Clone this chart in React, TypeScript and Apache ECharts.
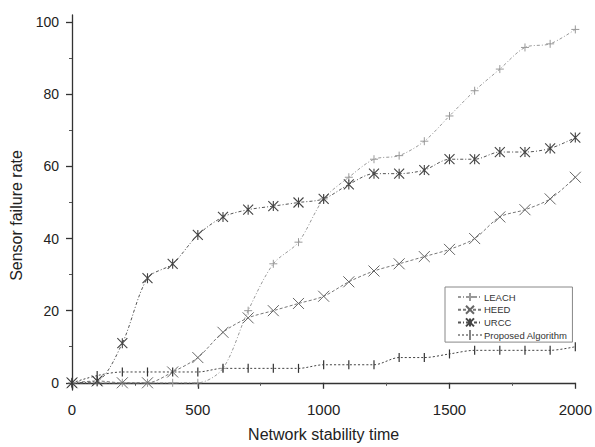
import React, { useEffect, useRef } from "react";
import * as echarts from "echarts";

const xValues = [0, 100, 200, 300, 400, 500, 600, 700, 800, 900, 1000, 1100, 1200, 1300, 1400, 1500, 1600, 1700, 1800, 1900, 2000];
const leach = [0, 0, 0, 0, 0, 0, 4, 20, 33, 39, 51, 57, 62, 63, 67, 74, 81, 87, 93, 94, 98];
const heed = [0, 0.5, 0, 0, 3, 7, 14, 18, 20, 22, 24, 28, 31, 33, 35, 37, 40, 46, 48, 51, 57];
const urcc = [0, 0.5, 11, 29, 33, 41, 46, 48, 49, 50, 51, 55, 58, 58, 59, 62, 62, 64, 64, 65, 68];
const proposed = [0, 2, 3, 3, 3, 3, 4, 4, 4, 4, 5, 5, 5, 7, 7, 8, 9, 9, 9, 9, 10];

const seriesNames = ["LEACH", "HEED", "URCC", "Proposed Algorithm"];
const yMajorTicks = [0, 20, 40, 60, 80, 100];
const yMinorTicks = [10, 30, 50, 70, 90];

const FONT = "'Liberation Sans', Arial, sans-serif";
const PROPOSED_ICON =
  "path://M0,4.5h2v1h-2zM4,4.5h2v1h-2zM8,4.5h2v1h-2zM11.4,0h1.2v10h-1.2zM14,4.5h2v1h-2zM18,4.5h2v1h-2zM22,4.5h2v1h-2z";

export default function App() {
  const ref = useRef<HTMLDivElement>(null);
  useEffect(() => {
    if (!ref.current) return;
    const chart = echarts.init(ref.current, undefined, { renderer: "svg" });
    const pts = (arr: number[]) => xValues.map((x, i) => [x, arr[i]]);
    chart.setOption({
      animation: false,
      backgroundColor: "#fff",
      textStyle: { fontFamily: FONT },
      grid: { left: 72, right: 14, top: 15, bottom: 55 },
      legend: {
        orient: "vertical",
        left: 445,
        top: 287,
        data: [
          { name: seriesNames[0] },
          { name: seriesNames[1] },
          { name: seriesNames[2] },
          { name: seriesNames[3], icon: PROPOSED_ICON },
        ],
        itemWidth: 24,
        itemHeight: 10,
        itemGap: 2.7,
        padding: [5, 5, 2, 12],
        borderColor: "#888",
        borderWidth: 1,
        textStyle: { fontSize: 9.5, color: "#333", fontFamily: FONT, padding: [0, 0, 0, -3] },
      },
      xAxis: {
        type: "value",
        min: 0,
        max: 2000,
        interval: 500,
        name: "Network stability time",
        nameLocation: "middle",
        nameGap: 36,
        nameTextStyle: { fontSize: 16, color: "#222", fontFamily: FONT },
        axisLine: { show: true, lineStyle: { color: "#333", width: 1.3 } },
        axisTick: { show: true, length: 6, lineStyle: { color: "#333", width: 1.3 } },
        minorTick: { show: true, splitNumber: 2, length: 3, lineStyle: { color: "#555" } },
        axisLabel: { fontSize: 15, color: "#222", margin: 12, fontFamily: FONT, formatter: (v: number) => String(v) },
        splitLine: { show: false },
      },
      yAxis: [
        {
          type: "value",
          min: -2,
          max: 102,
          name: "Sensor failure rate",
          nameLocation: "middle",
          nameGap: 46,
          nameTextStyle: { fontSize: 16, color: "#222", fontFamily: FONT, padding: [0, 26, 0, 0] },
          axisLine: { show: true, lineStyle: { color: "#333", width: 1.3 } },
          axisTick: { show: true, length: 6, customValues: yMajorTicks, lineStyle: { color: "#333", width: 1.3 } },
          axisLabel: { fontSize: 14, color: "#222", margin: 13, customValues: yMajorTicks, fontFamily: FONT, formatter: (v: number) => String(v) },
          splitLine: { show: false },
        },
        {
          type: "value",
          min: -2,
          max: 102,
          position: "left",
          axisLine: { show: false },
          axisTick: { show: true, length: 3, customValues: yMinorTicks, lineStyle: { color: "#555" } },
          axisLabel: { show: false },
          splitLine: { show: false },
        },
      ],
      series: [
        {
          name: "LEACH",
          type: "line",
          data: pts(leach),
          smooth: 0.3,
          symbol: "path://M5,0L5,10M0,5L10,5",
          symbolSize: 8,
          itemStyle: { color: "#999", borderColor: "#999", borderWidth: 1 },
          lineStyle: { color: "#999", width: 1, type: [3, 2, 1, 2] },
        },
        {
          name: "HEED",
          type: "line",
          data: pts(heed),
          smooth: 0.3,
          symbol: "path://M0,0L10,10M10,0L0,10",
          symbolSize: 11,
          itemStyle: { color: "#666", borderColor: "#666", borderWidth: 1 },
          lineStyle: { color: "#777", width: 1, type: [3, 2] },
        },
        {
          name: "URCC",
          type: "line",
          data: pts(urcc),
          smooth: 0.3,
          symbol: "path://M0,0L10,10M10,0L0,10M5,0L5,10",
          symbolSize: 10,
          itemStyle: { color: "#444", borderColor: "#444", borderWidth: 1.1 },
          lineStyle: { color: "#555", width: 1, type: [3, 2, 1, 2] },
        },
        {
          name: "Proposed Algorithm",
          type: "line",
          data: pts(proposed),
          smooth: 0.3,
          symbol: "rect",
          symbolSize: [1.2, 9],
          itemStyle: { color: "#333" },
          lineStyle: { color: "#444", width: 1, type: [2, 2] },
        },
      ],
    });
    return () => chart.dispose();
  }, []);
  return <div ref={ref} style={{ width: 595, height: 447, position: "absolute", left: 0, top: 0 }} />;
}
